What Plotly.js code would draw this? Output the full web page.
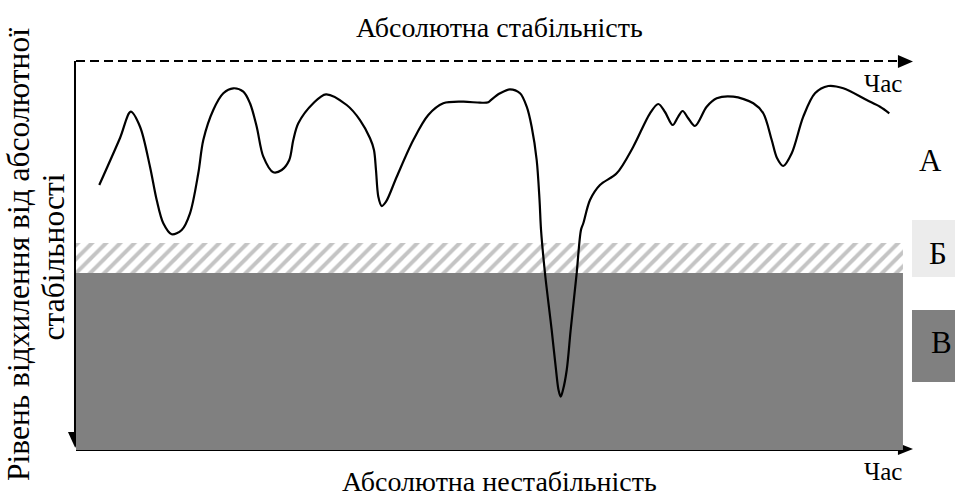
<!DOCTYPE html>
<html>
<head>
<meta charset="utf-8">
<script src="https://cdn.plot.ly/plotly-3.0.1.min.js"></script>
</head>
<body style="margin:0">
<div id="chart"></div>
<script>
// Time (0..100) and level of deviation from absolute stability (0..100)
const timeX = [2.78, 5.26, 6.54, 7.65, 8.84, 9.64, 10.43, 11.43, 12.63, 13.62, 14.61, 15.21, 16.40, 17.60, 18.79, 19.99, 20.79, 21.59, 22.38, 23.57, 24.58, 25.48, 25.96, 26.56, 28.35, 29.87, 32.34, 33.93, 35.13, 35.60, 35.84, 36.12, 36.52, 37.04, 38.32, 40.30, 42.09, 43.88, 46.27, 48.27, 49.26, 49.67, 50.66, 51.85, 53.05, 53.85, 54.44, 55.04, 55.38, 55.56, 56.03, 56.83, 57.35, 57.65, 57.91, 58.18, 58.63, 59.10, 59.82, 60.33, 60.61, 61.41, 62.60, 64.60, 66.58, 68.58, 69.57, 70.37, 71.29, 71.92, 72.48, 73.12, 73.95, 75.35, 76.55, 78.53, 80.92, 82.11, 83.12, 83.75, 84.50, 85.51, 86.89, 88.29, 89.88, 91.67, 94.47, 96.06, 97.17];
const levelY = [68.12, 80.21, 86.97, 83.11, 72.83, 64.27, 58.28, 55.45, 56.56, 60.85, 71.13, 79.69, 87.40, 91.70, 92.98, 92.11, 89.13, 83.11, 75.40, 71.39, 71.98, 74.55, 79.69, 83.98, 89.13, 91.44, 88.69, 84.83, 80.13, 77.12, 71.98, 65.12, 62.72, 63.83, 70.26, 79.69, 86.12, 89.13, 89.54, 89.28, 89.38, 90.15, 91.70, 92.72, 91.70, 88.25, 83.11, 74.55, 64.27, 56.56, 45.50, 30.85, 20.57, 15.42, 13.70, 15.42, 20.57, 30.85, 45.50, 56.56, 58.28, 64.27, 68.12, 71.13, 77.97, 86.56, 88.95, 86.89, 83.55, 85.60, 87.15, 85.35, 83.29, 88.25, 90.41, 90.82, 89.13, 86.56, 79.69, 75.06, 73.01, 76.27, 85.68, 91.70, 93.57, 92.98, 89.97, 88.25, 86.56];

// Zones: А (stable), Б (hatched transition), В (unstable)
const zoneLabels = ['А', 'Б', 'В'];
const zoneBRange = [45.5, 53.2];
const zoneVRange = [0, 45.5];
const zoneEndX = 98.8;

const titleTop = 'Абсолютна стабільність';
const titleBottom = 'Абсолютна нестабільність';
const yLabelLines = ['Рівень відхилення від абсолютної', 'стабільності'];
const timeLabel = 'Час';

const FONT = 'Liberation Serif';

const traces = [
  {
    type: 'scatter', mode: 'lines',
    x: [0, zoneEndX, zoneEndX, 0, 0],
    y: [zoneBRange[0], zoneBRange[0], zoneBRange[1], zoneBRange[1], zoneBRange[0]],
    fill: 'toself', line: {width: 0, color: 'rgba(0,0,0,0)'},
    fillcolor: 'white',
    fillpattern: {shape: '/', fgcolor: '#c4c4c4', bgcolor: 'white', size: 10, solidity: 0.4},
    hoverinfo: 'skip'
  },
  {
    type: 'scatter', mode: 'lines',
    x: timeX, y: levelY,
    line: {color: 'black', width: 2.2, shape: 'spline', smoothing: 0.9},
    hoverinfo: 'skip'
  }
];

const shapes = [
  {type: 'line', xref: 'paper', yref: 'paper', x0: 0, x1: 0.982, y0: 1, y1: 1,
   line: {color: 'black', width: 2, dash: '9px,5px'}, layer: 'below'},
  {type: 'path', xref: 'paper', yref: 'paper', path: 'M 0.982 1.0154 L 0.982 0.982 L 1.0 0.9987 Z',
   fillcolor: 'black', line: {width: 0}, layer: 'below'},
  {type: 'line', xref: 'paper', yref: 'paper', x0: -0.0012, x1: -0.0012, y0: 1, y1: 0.03,
   line: {color: 'black', width: 2}, layer: 'below'},
  {type: 'path', xref: 'paper', yref: 'paper', path: 'M -0.0096 0.0463 L 0.0096 0.0463 L -0.001 0.006 Z',
   fillcolor: 'black', line: {width: 0}, layer: 'below'},
  {type: 'line', xref: 'paper', yref: 'paper', x0: 0, x1: 0.982, y0: 0, y1: 0,
   line: {color: 'black', width: 2}, layer: 'below'},
  {type: 'path', xref: 'paper', yref: 'paper', path: 'M 0.982 0.018 L 0.982 -0.0129 L 1.0 0.0026 Z',
   fillcolor: 'black', line: {width: 0}, layer: 'below'},
  {type: 'rect', xref: 'x', yref: 'y', x0: 0, x1: zoneEndX, y0: zoneVRange[0], y1: zoneVRange[1],
   fillcolor: '#808080', line: {width: 0}, layer: 'below'},
  {type: 'rect', xref: 'paper', yref: 'paper', x0: 0.9988, x1: 1.06, y0: 0.4447, y1: 0.5913,
   fillcolor: '#ececec', line: {width: 0}, layer: 'below'},
  {type: 'rect', xref: 'paper', yref: 'paper', x0: 0.9988, x1: 1.06, y0: 0.1748, y1: 0.3599,
   fillcolor: '#808080', line: {width: 0}, layer: 'below'}
];

function ann(text, x, y, size, extra) {
  return Object.assign({text: text, xref: 'paper', yref: 'paper', x: x, y: y, showarrow: false,
    xanchor: 'center', yanchor: 'middle', font: {family: FONT, size: size, color: 'black'}}, extra || {});
}

const annotations = [
  ann(titleTop, 0.506, 1.0874, 28),
  ann(titleBottom, 0.506, -0.0797, 28),
  ann(timeLabel, 0.9638, 0.9409, 25),
  ann(timeLabel, 0.9638, -0.0553, 25),
  ann(zoneLabels[0], 1.0209, 0.7455, 31),
  ann(zoneLabels[1], 1.0299, 0.5039, 31),
  ann(zoneLabels[2], 1.0335, 0.2763, 31),
  ann(yLabelLines[0], -0.0681, 0.5013, 31.5, {textangle: -90}),
  ann(yLabelLines[1], -0.0275, 0.4975, 31.5, {textangle: -90})
];

const layout = {
  width: 955, height: 497,
  margin: {l: 76, r: 42, t: 61, b: 47, pad: 0},
  paper_bgcolor: 'white', plot_bgcolor: 'rgba(0,0,0,0)',
  showlegend: false,
  xaxis: {range: [0, 100], visible: false, fixedrange: true},
  yaxis: {range: [0, 100], visible: false, fixedrange: true},
  shapes: shapes,
  annotations: annotations
};

Plotly.newPlot('chart', traces, layout, {displayModeBar: false});
</script>
</body>
</html>
